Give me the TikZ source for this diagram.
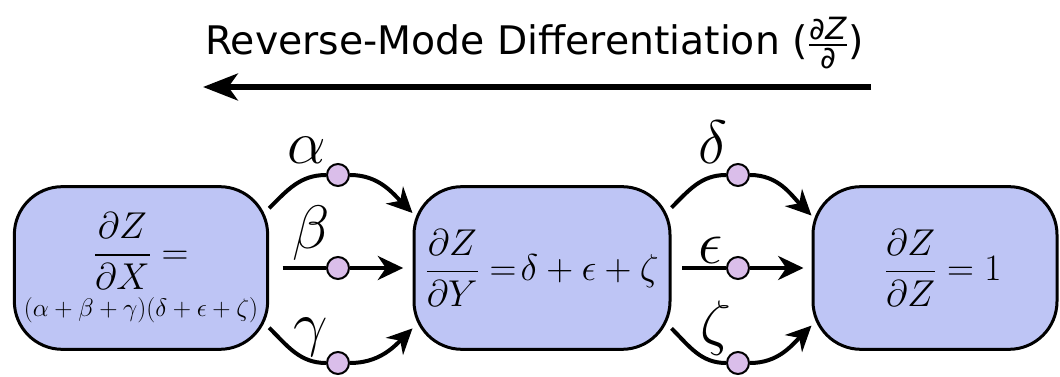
\RequirePackage{fix-cm}
\documentclass[tikz,border=0pt]{standalone}
\usepackage{amsmath,amssymb}
\usepackage{fontspec}
\newfontfamily\titlefont{DejaVu Sans}
\usetikzlibrary{arrows.meta}
\definecolor{boxfill}{RGB}{190,197,245}
\definecolor{knot}{RGB}{218,190,234}
\tikzset{
  gbox/.style={draw,line width=2.25pt,fill=boxfill,rounded corners=36pt,minimum height=122pt,inner sep=2pt,align=center,font=\fontsize{28}{32}\selectfont},
  knotdot/.style={circle,draw,fill=knot,line width=1.5pt,inner sep=0pt,minimum size=16.5pt},
  flow/.style={line width=3pt,-{Stealth[length=19pt,width=18pt,inset=6pt]}},
  glab/.style={inner sep=0pt,font=\fontsize{46}{46}\selectfont}
}

\begin{document}
\begin{tikzpicture}[x=0.75pt,y=-0.75pt]
  \useasboundingbox (0,0) rectangle (1060,377);
  % title and direction arrow
  \node[anchor=base west,inner sep=0pt,font=\titlefont\fontsize{29.5}{34}\selectfont] (ttl) at (205,55)
    {Reverse-Mode Differentiation ($\frac{\mbox{\fontsize{23}{23}\selectfont ∂\textit{Z}}}{\mbox{\fontsize{23}{23}\selectfont ∂}}$)};
  \coordinate (rstart) at (871,87);
  \coordinate (rend) at (203,87);
  \draw[line width=4.5pt,-{Stealth[length=26pt,width=20pt,inset=7pt]}] (rstart) -- (rend);
  % boxes
  \node[gbox,minimum width=190pt] (bx) at (141,268)
    {$\displaystyle\frac{\partial Z}{\partial X} =$\\[5pt]{\fontsize{19}{22}\selectfont$(\alpha+\beta+\gamma)(\delta+\epsilon+\zeta)$}};
  \node[gbox,minimum width=192pt] (by) at (542,268)
    {$\displaystyle\frac{\partial Z}{\partial Y} =\!\delta+\epsilon+\zeta$};
  \node[gbox,minimum width=183pt] (bz) at (935,268)
    {\hspace*{12pt}$\displaystyle\frac{\partial Z}{\partial Z} = 1$};
  % path weights
  \node[knotdot] (kal) at (338,175) {};
  \node[knotdot] (kbe) at (338,268) {};
  \node[knotdot] (kga) at (338,363) {};
  \node[knotdot] (kde) at (738,175) {};
  \node[knotdot] (kep) at (738,268) {};
  \node[knotdot] (kze) at (738,363) {};
  \draw[flow] (bx.25) to[out=45,in=180] (kal) to[out=0,in=135] (by.157);
  \draw[flow] ([xshift=10pt]bx.east) -- (kbe) -- ([xshift=-7pt]by.west);
  \draw[flow] (bx.-25) to[out=-45,in=180] (kga) to[out=0,in=-135] (by.205);
  \draw[flow] (by.25) to[out=45,in=180] (kde) to[out=0,in=135] (bz.157);
  \draw[flow] ([xshift=8pt]by.east) -- (kep) -- ([xshift=-6pt]bz.west);
  \draw[flow] (by.-25) to[out=-45,in=180] (kze) to[out=0,in=-135] (bz.205);
  \node[glab] (lal) at (307,150) {$\alpha$};
  \node[glab] (lbe) at (311,233) {$\beta$};
  \node[glab] (lga) at (311,337) {$\gamma$};
  \node[glab] (lde) at (713,142) {$\delta$};
  \node[glab] (lep) at (711,250) {$\epsilon$};
  \node[glab] (lze) at (716,328) {$\zeta$};
\end{tikzpicture}
\end{document}
